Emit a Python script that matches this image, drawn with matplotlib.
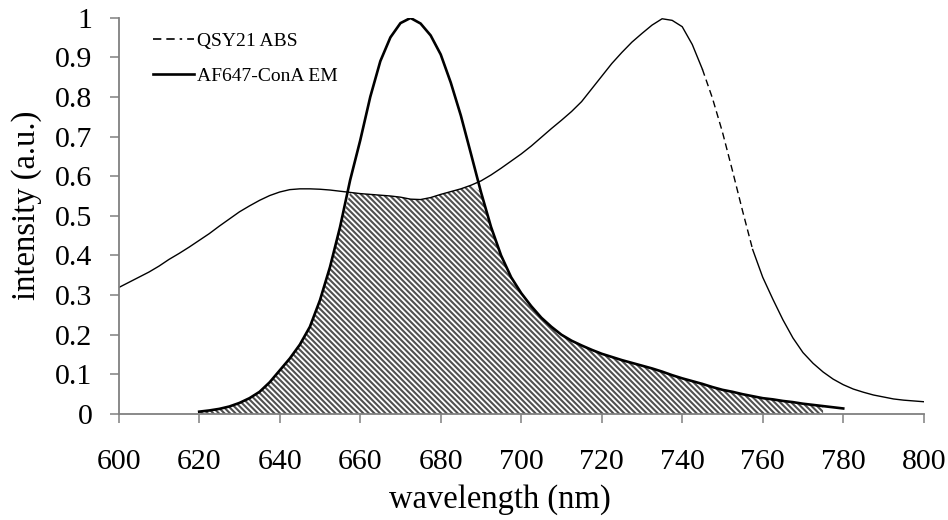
import matplotlib.pyplot as plt
import numpy as np

plt.rcParams['font.family'] = ['Liberation Serif', 'DejaVu Serif']
plt.rcParams['hatch.linewidth'] = 1.5

# shared wavelength grid (nm), 2.5 nm steps
wavelength = np.arange(600, 800.1, 2.5)

# QSY21 absorption, 600-800 nm
qsy21_abs = [0.319, 0.332, 0.345, 0.358, 0.373, 0.390, 0.405, 0.421, 0.438, 0.455,
             0.474, 0.492, 0.510, 0.525, 0.539, 0.551, 0.560, 0.566, 0.568, 0.568,
             0.567, 0.565, 0.562, 0.559, 0.556, 0.554, 0.552, 0.550, 0.547, 0.542,
             0.541, 0.546, 0.554, 0.561, 0.568, 0.577, 0.588, 0.603, 0.620, 0.638,
             0.656, 0.676, 0.698, 0.720, 0.741, 0.763, 0.788, 0.820, 0.852, 0.884,
             0.912, 0.938, 0.960, 0.981, 0.997, 0.993, 0.977, 0.932, 0.870, 0.797,
             0.711, 0.613, 0.512, 0.415, 0.345, 0.290, 0.238, 0.192, 0.155, 0.128,
             0.106, 0.088, 0.074, 0.063, 0.055, 0.048, 0.043, 0.038, 0.035, 0.033,
             0.031]

# AF647-ConA emission, 620-780 nm
af647_em = [0.006, 0.009, 0.013, 0.019, 0.028, 0.040, 0.056, 0.080, 0.110, 0.140,
            0.175, 0.220, 0.287, 0.371, 0.472, 0.590, 0.690, 0.800, 0.890, 0.950,
            0.986, 0.999, 0.985, 0.955, 0.907, 0.836, 0.753, 0.657, 0.560, 0.472,
            0.400, 0.345, 0.305, 0.272, 0.243, 0.220, 0.200, 0.185, 0.173, 0.162,
            0.152, 0.144, 0.136, 0.129, 0.122, 0.115, 0.107, 0.098, 0.090, 0.083,
            0.076, 0.068, 0.061, 0.056, 0.050, 0.045, 0.040, 0.037, 0.033, 0.030,
            0.026, 0.023, 0.020, 0.017, 0.014]

wl = wavelength
ab = np.array(qsy21_abs)
em = np.full(len(wl), np.nan)
em_range = (wl >= 620) & (wl <= 780)
em[em_range] = af647_em

fig = plt.figure(figsize=(9.48, 5.2), dpi=100)
ax = fig.add_axes([0.1252, 0.2038, 0.8492, 0.7624])

# spectral overlap region
overlap = np.minimum(ab, em)
mask = (wl >= 620) & (wl <= 775)
ax.fill_between(wl[mask], 0, overlap[mask], facecolor='white', edgecolor='#505050',
                hatch='\\\\\\\\\\\\', linewidth=0)

# absorption: solid with a dashed stretch on the red flank
solid1 = wl <= 745
dashed = (wl >= 745) & (wl <= 757.5)
solid2 = wl >= 757.5
ax.plot(wl[solid1], ab[solid1], color='black', lw=1.0)
ax.plot(wl[dashed], ab[dashed], color='black', lw=1.0, dashes=(5, 3))
ax.plot(wl[solid2], ab[solid2], color='black', lw=1.0)

ax.plot(wl, em, color='black', lw=1.9, solid_joinstyle='round')

# legend handles
h_abs, = ax.plot([], [], color='black', lw=1.2, dashes=(5, 3, 5, 3, 1.5, 3))
h_em, = ax.plot([], [], color='black', lw=1.9)
ax.legend([h_abs, h_em], ['QSY21 ABS', 'AF647-ConA EM'], loc='upper left',
          bbox_to_anchor=(0.043, 0.962), frameon=False, fontsize=14,
          handlelength=2.1, handletextpad=0.15, labelspacing=0.87,
          borderpad=0, borderaxespad=0)

ax.set_xlim(600, 800)
ax.set_ylim(0, 1)
ax.set_xticks(np.arange(600, 801, 20))
ax.set_yticks(np.arange(0, 1.01, 0.1))
ax.set_yticklabels(['0', '0.1', '0.2', '0.3', '0.4', '0.5', '0.6', '0.7', '0.8', '0.9', '1'])

for side in ['top', 'right']:
    ax.spines[side].set_visible(False)
for side in ['left', 'bottom']:
    ax.spines[side].set_color('#808080')
    ax.spines[side].set_linewidth(1.3)
ax.tick_params(axis='both', direction='out', length=6.5, width=1.1, color='#808080',
               labelsize=21.5)
ax.tick_params(axis='y', pad=12.5)
ax.tick_params(axis='x', pad=19)

ax.set_xlabel('wavelength (nm)', fontsize=23.5, labelpad=6)
ax.set_ylabel('intensity (a.u.)', fontsize=23.5, labelpad=9)
ax.xaxis.label.set_x(0.474)
ax.yaxis.label.set_y(0.527)

fig.savefig('out.png', dpi=100)
